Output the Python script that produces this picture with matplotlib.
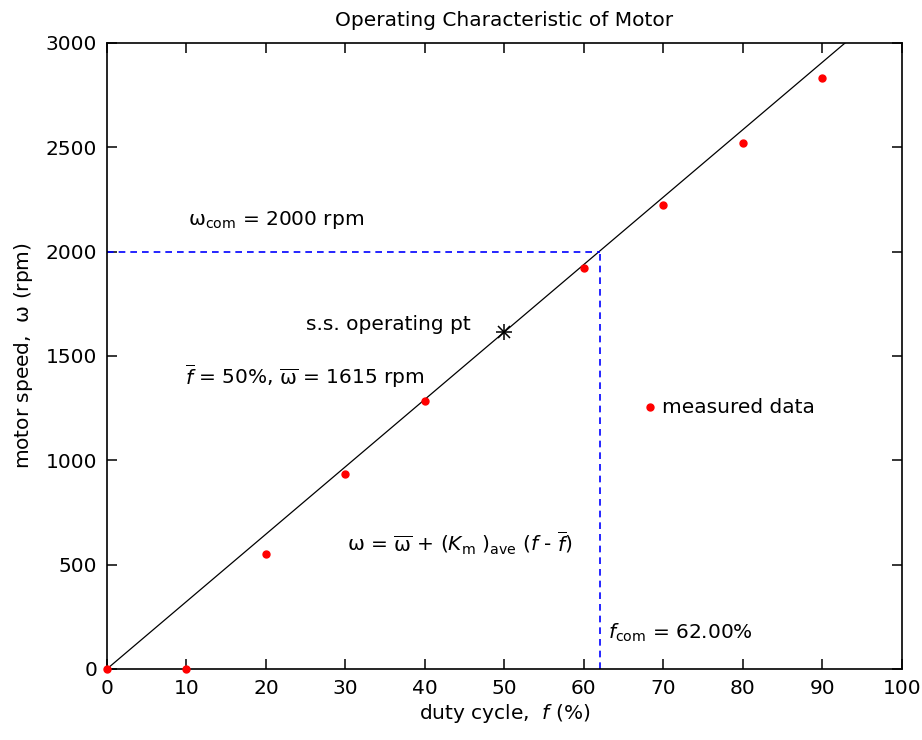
import numpy as np
import matplotlib
matplotlib.use("Agg")
import matplotlib.pyplot as plt

plt.rcParams['font.family'] = ['DejaVu Sans']
plt.rcParams['mathtext.fontset'] = 'custom'
plt.rcParams['mathtext.rm'] = 'DejaVu Sans'
plt.rcParams['mathtext.it'] = 'DejaVu Sans:italic'
plt.rcParams['mathtext.bf'] = 'DejaVu Sans:bold'

# measured motor speed vs duty cycle
duty = [0, 10, 20, 30, 40, 60, 70, 80, 90]
speed = [0, 0, 553, 935, 1285, 1922, 2225, 2522, 2830]

# steady-state operating point and average motor gain
f_bar = 50
w_bar = 1615
Km_ave = 32.3
w_com = 2000
f_com = 62.0

fs = 14.5

fig = plt.figure(figsize=(9.22, 7.4), dpi=100)
ax = fig.add_axes([0.116, 0.096, 0.862, 0.846])

# linear model through the operating point
f_line = np.array([0, 100])
ax.plot(f_line, w_bar + Km_ave * (f_line - f_bar), color='black', lw=0.9)

ax.plot(duty, speed, 'o', color='red', ms=5, mec='red', clip_on=False, zorder=4)
ax.plot([f_bar], [w_bar], '+', color='black', ms=11, mew=1.1)
ax.plot([f_bar], [w_bar], 'x', color='black', ms=8, mew=1.1)

# commanded speed / duty cycle guides
ax.plot([0, f_com], [w_com, w_com], color='blue', lw=1.2, dashes=(4, 3))
ax.plot([f_com, f_com], [0, w_com], color='blue', lw=1.2, dashes=(4, 3))

ax.text(10.2, 2150, r"$\mathrm{\omega}_{\mathrm{com}}$ = 2000 rpm", fontsize=fs, va='center')
ax.text(25, 1650, "s.s. operating pt", fontsize=fs, va='center')
ax.text(9.8, 1405, r"$\overline{f}$ = 50%, $\overline{\mathrm{\omega}}$ = 1615 rpm", fontsize=fs, va='center')
ax.plot([68.3], [1253], 'o', color='red', ms=5, mec='red', clip_on=False)
ax.text(69.9, 1253, "measured data", fontsize=fs, va='center')
ax.text(30.2, 600,
        r"$\mathrm{\omega}$ = $\overline{\mathrm{\omega}}$ + ($K_{\mathrm{m}}$ $\mathrm{)}_{\mathrm{ave}}$ ($f$ - $\overline{f}$)",
        fontsize=fs, va='center')
ax.text(63, 175, r"$f_{\mathrm{com}}$ = %.2f%%" % f_com, fontsize=fs, va='center')

ax.set_xlim(0, 100)
ax.set_ylim(0, 3000)
ax.set_xticks(np.arange(0, 101, 10))
ax.set_yticks(np.arange(0, 3001, 500))
ax.tick_params(direction='in', length=7, width=1.1, top=True, right=True,
               labelsize=fs, pad=7)
for sp in ax.spines.values():
    sp.set_linewidth(1.2)

ax.set_title("Operating Characteristic of Motor", fontsize=fs, pad=12)
ax.set_xlabel(r"duty cycle,  $f$ (%)", fontsize=fs, labelpad=3)
ax.set_ylabel(r"motor speed,  $\mathrm{\omega}$ (rpm)", fontsize=fs, labelpad=8)

fig.savefig("out.png", dpi=100, facecolor='white')
